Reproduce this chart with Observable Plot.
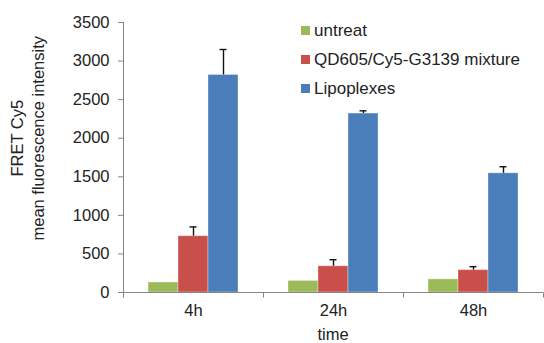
<!DOCTYPE html>
<html><head><meta charset="utf-8">
<script src="https://cdn.jsdelivr.net/npm/d3@7"></script>
<script src="https://cdn.jsdelivr.net/npm/@observablehq/plot@0.6"></script>
<style>
body{margin:0;background:#fff;}
#wrap{position:relative;width:544px;height:343px;font-family:"Liberation Sans",Arial,sans-serif;color:#222;overflow:hidden;}
#wrap svg{position:absolute;left:0;top:0;}
.ytitle{position:absolute;left:0;top:0;font-size:16.5px;line-height:21px;text-align:center;white-space:nowrap;transform-origin:0 0;}
.xtitle{position:absolute;font-size:16.5px;line-height:16.5px;white-space:nowrap;}
.legend{position:absolute;left:301px;top:16px;font-size:17px;}
.legend .row{height:29px;display:flex;align-items:center;}
.legend .sw{width:9px;height:9px;margin-right:4px;}
g[aria-label="y-axis tick"] path{stroke:#868686;}
</style></head><body>
<div id="wrap"></div>
<script>
const times = ["4h", "24h", "48h"];
const series = ["untreat", "QD605/Cy5-G3139 mixture", "Lipoplexes"];
const untreat = [130, 150, 170];
const mixture = [730, 340, 290];
const lipoplexes = [2820, 2320, 1545];
const errUntreat = [0, 0, 0];
const errMixture = [120, 85, 45];
const errLipoplexes = [330, 35, 85];
const yTicks = [0, 500, 1000, 1500, 2000, 2500, 3000, 3500];
const colors = ["#9bbb59", "#c9504a", "#4a7ebb"];
const yTitle = ["FRET Cy5", "mean fluorescence intensity"];
const xTitle = "time";

const values = [untreat, mixture, lipoplexes];
const errs = [errUntreat, errMixture, errLipoplexes];
const data = [];
times.forEach((t, i) => series.forEach((s, j) => {
  data.push({time: t, series: s, value: values[j][i], err: errs[j][i], top: values[j][i] + errs[j][i]});
}));
const errData = data.filter(d => d.err > 0);

const chart = Plot.plot({
  width: 544, height: 343,
  marginLeft: 122, marginRight: 1, marginTop: 22, marginBottom: 51,
  style: {fontFamily: "'Liberation Sans', Arial, sans-serif", fontSize: "16.5px", color: "#222", background: "transparent"},
  fx: {domain: times, padding: 0, label: null, tickSize: 0, tickPadding: 12, axis: "bottom"},
  x: {domain: series, paddingInner: 0, paddingOuter: 0.76, axis: null},
  y: {domain: [0, 3500], ticks: yTicks, tickSize: 5, tickPadding: 9, label: null, tickFormat: d => String(d)},
  color: {domain: series, range: colors},
  marks: [
    Plot.barY(data, {fx: "time", x: "series", y: "value", fill: "series", stroke: "#ffffff", strokeOpacity: 0.35, strokeWidth: 1}),
    Plot.ruleY([0], {stroke: "#868686"}),
    Plot.ruleX(errData, {fx: "time", x: "series", y1: "value", y2: "top", stroke: "#111", strokeWidth: 1.4}),
    Plot.tickY(errData, {fx: "time", x: "series", y: "top", stroke: "#111", strokeWidth: 1.4, insetLeft: 11.5, insetRight: 11.5})
  ]
});

const wrap = document.getElementById("wrap");
wrap.appendChild(chart);

const fx = chart.scale("fx"), y = chart.scale("y");
const svg = d3.select(chart);
const y0 = y.apply(0), yTop = y.apply(yTicks[yTicks.length - 1]);
const xLeft = fx.apply(times[0]);
svg.append("line").attr("x1", xLeft + 0.5).attr("x2", xLeft + 0.5)
  .attr("y1", yTop).attr("y2", y0 + 5.5).attr("stroke", "#868686");
const bounds = times.map(t => fx.apply(t)).concat([fx.apply(times[times.length - 1]) + fx.step]);
bounds.forEach(b => {
  svg.append("line").attr("x1", Math.min(b, 543) + 0.5).attr("x2", Math.min(b, 543) + 0.5)
    .attr("y1", y0 + 0.5).attr("y2", y0 + 5.5).attr("stroke", "#868686");
});

// y title
const yt = document.createElement("div");
yt.className = "ytitle";
yt.innerHTML = yTitle.map(s => `<div>${s}</div>`).join("");
wrap.appendChild(yt);
const w = yt.offsetWidth, h = yt.offsetHeight;
const cx = 27.5, cy = 138;
yt.style.transform = `translate(${cx - h / 2}px, ${cy + w / 2}px) rotate(-90deg)`;

// x title
const xt = document.createElement("div");
xt.className = "xtitle";
xt.textContent = xTitle;
wrap.appendChild(xt);
const xc = (fx.apply(times[0]) + fx.apply(times[times.length - 1]) + fx.step) / 2;
xt.style.left = (xc - xt.offsetWidth / 2) + "px";
xt.style.top = "326px";

// legend
const lg = document.createElement("div");
lg.className = "legend";
lg.innerHTML = series.map((s, i) => `<div class="row"><span class="sw" style="background:${colors[i]}"></span><span>${s}</span></div>`).join("");
wrap.appendChild(lg);
</script>
</body></html>
